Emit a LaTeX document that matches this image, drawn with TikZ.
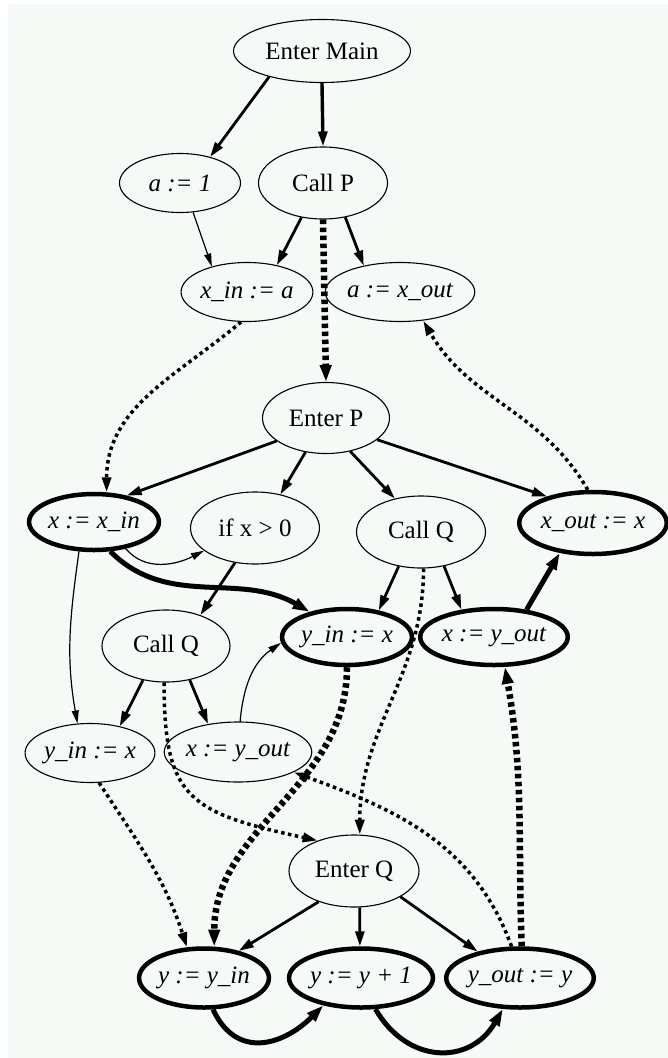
\documentclass[tikz,border=0pt]{standalone}
\usepackage{fontspec}
\setmainfont{Liberation Serif}
\usepackage{tikz}
\usetikzlibrary{arrows.meta}
\usetikzlibrary{shapes}
\definecolor{paper}{RGB}{245,250,247}

\begin{document}
\begin{tikzpicture}[x=1pt,y=1pt]
\tikzset{font=\fontsize{25}{28}\selectfont}
\tikzset{>={Triangle[length=15pt,width=9pt]}}
\tikzset{plain/.style={ellipse, draw, line width=1.1pt, inner sep=0pt}}
\tikzset{heavy/.style={ellipse, draw, line width=4.5pt, inner sep=0pt}}
\tikzset{assign/.style={font=\fontsize{25}{28}\selectfont\itshape}}
\tikzset{flow/.style={->, line width=2.8pt}}
\tikzset{thinflow/.style={->, line width=1.2pt, >={Triangle[length=13pt,width=7pt]}}}
\tikzset{boldflow/.style={->, line width=5pt, >={Triangle[length=17pt,width=11pt]}}}
\tikzset{dots/.style={->, line width=3.5pt, dash pattern=on 3.5pt off 3.5pt}}
\tikzset{bolddots/.style={->, line width=6.5pt, dash pattern=on 4.5pt off 3.5pt, >={Triangle[length=17pt,width=11pt]}}}
\useasboundingbox (0,0) rectangle (668,-1058);
\fill[white] (0,0) rectangle (668,-1058);
\fill[paper] (8,-4) rectangle (668,-1058);

\node[plain, minimum width=177pt, minimum height=63pt] (main) at (322,-51) {Enter Main};
\node[plain, assign, minimum width=121pt, minimum height=59pt] (aone) at (180,-183) {a := 1};
\node[plain, minimum width=129pt, minimum height=72pt] (callp) at (323,-183) {Call P};
\node[plain, assign, minimum width=119pt, minimum height=59pt] (xina) at (247,-292) {x\_in := a};
\node[plain, assign, minimum width=126pt, minimum height=59pt] (aout) at (400,-292) {a := x\_out};
\node[plain, minimum width=127pt, minimum height=71pt] (enterp) at (326,-418) {Enter P};
\node[heavy, assign, minimum width=118pt, minimum height=56pt] (xxin) at (94,-522) {x := x\_in};
\node[plain, minimum width=129pt, minimum height=72pt] (ifx) at (255,-528) {if x > 0};
\node[plain, minimum width=129pt, minimum height=72pt] (callqr) at (421,-532) {Call Q};
\node[heavy, assign, minimum width=124pt, minimum height=62pt] (xout) at (593,-523) {x\_out := x};
\node[plain, minimum width=128pt, minimum height=72pt] (callql) at (166,-646) {Call Q};
\node[heavy, assign, minimum width=120pt, minimum height=56pt] (yinr) at (347,-637) {y\_in := x};
\node[heavy, assign, minimum width=120pt, minimum height=56pt] (xyoutr) at (494,-637) {x := y\_out};
\node[plain, assign, minimum width=118pt, minimum height=59pt] (yinl) at (90,-753) {y\_in := x};
\node[plain, assign, minimum width=119pt, minimum height=60pt] (xyoutl) at (238,-752) {x := y\_out};
\node[plain, minimum width=130pt, minimum height=72pt] (enterq) at (354,-871) {Enter Q};
\node[heavy, assign, minimum width=120pt, minimum height=59pt] (yyin) at (204,-978) {y := y\_in};
\node[heavy, assign, minimum width=126pt, minimum height=59pt] (yinc) at (361,-978) {y := y + 1};
\node[heavy, assign, minimum width=128pt, minimum height=59pt] (yout) at (520,-978) {y\_out := y};

\draw[flow] (main.206) -- (aone.41);
\draw[flow, line width=3.4pt] (main.270) -- (callp.90);
\draw[thinflow] (aone.294) -- (xina.144);
\draw[flow] (callp.238) -- (xina.42);
\draw[flow] (callp.303) -- (aout.144);
\draw[bolddots] (callp.south) -- (enterp.north);
\draw[dots] (xina.259) to[out=220, in=90] (xxin.67);
\draw[dots] (xout.99) to[out=120, in=-60] (aout.309);
\draw[flow] (enterp.205) -- (xxin.39);
\draw[flow] (enterp.239) -- (ifx.53);
\draw[flow] (enterp.306) -- (callqr.128);
\draw[flow] (enterp.337) -- (xout.150);
\draw[thinflow] (xxin.320) to[out=-50, in=207] (ifx.204);
\draw[boldflow] (xxin.299) to[out=-45, in=150] (yinr.146);
\draw[thinflow] (xxin.243) to[out=262, in=100] (yinl.113);
\draw[flow] (ifx.240) -- (callql.42);
\draw[flow] (callqr.237) -- (yinr.40);
\draw[flow] (callqr.304) -- (xyoutr.140);
\draw[dots] (callqr.274) to[out=-90, in=90] (enterq.81);
\draw[boldflow] (xyoutr.40) -- (xout.222);
\draw[flow] (callql.236) -- (yinl.42);
\draw[flow] (callql.305) -- (xyoutl.137);
\draw[dots] (callql.267) .. controls +(0,-115) and +(-130,28) .. (enterq.140);
\draw[thinflow] (xyoutl.86) to[out=85, in=215] (yinr.185);
\draw[dots] (yinl.287) to[out=-57, in=108] (yyin.119);
\draw[bolddots] (yinr.south) to[out=-90, in=90] (yyin.72);
\draw[dots] (yout.105) to[out=110, in=-20] (xyoutl.340);
\draw[bolddots] (yout.87) to[out=92, in=-80] (xyoutr.290);
\draw[flow] (enterq.221) -- (yyin.38);
\draw[flow] (enterq.279) -- (yinc.92);
\draw[flow] (enterq.331) -- (yout.148);
\draw[boldflow] (yyin.286) to[out=-65, in=225, looseness=1.3] (yinc.216);
\draw[boldflow] (yinc.295) to[out=-60, in=240, looseness=1.3] (yout.241);
\end{tikzpicture}
\end{document}
